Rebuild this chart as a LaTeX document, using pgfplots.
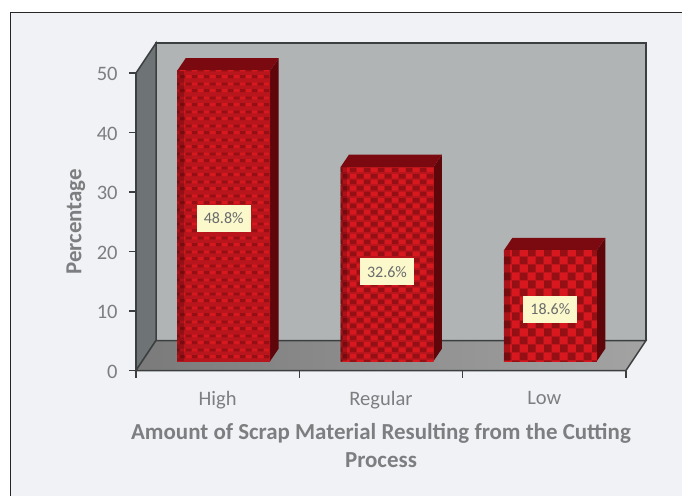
\documentclass[border=0pt]{standalone}
\usepackage{pgfplots}
\pgfplotsset{compat=1.18}
\usepackage{fontspec}
\setmainfont{Carlito}
\usetikzlibrary{patterns}
\definecolor{pgback}{HTML}{F1F2F5}
\definecolor{txt}{HTML}{7C7E80}
\definecolor{edge}{HTML}{3C3F40}
\definecolor{wallb}{HTML}{B0B4B5}
\definecolor{walll}{HTML}{6E7475}
\definecolor{cdark}{HTML}{951015}
\definecolor{cmid}{HTML}{B8151C}
\definecolor{cbright}{HTML}{D8181F}
\definecolor{sidec}{HTML}{5E060A}
\definecolor{topc}{HTML}{7A0A10}
\definecolor{lab}{HTML}{FBF8CB}
\pgfdeclarepatterninherentlycolored{dashA}{\pgfpoint{0pt}{0pt}}{\pgfpoint{9pt}{10.2pt}}{\pgfpoint{9pt}{10.2pt}}{%
  \pgfsetfillcolor{cmid}\pgfpathrectangle{\pgfpoint{0pt}{0pt}}{\pgfpoint{9pt}{10.2pt}}\pgfusepath{fill}
  \pgfsetfillcolor{cbright}\pgfpathrectangle{\pgfpoint{0pt}{6.6pt}}{\pgfpoint{4.5pt}{2.2pt}}\pgfusepath{fill}
  \pgfsetfillcolor{cdark}\pgfpathrectangle{\pgfpoint{4.5pt}{6.6pt}}{\pgfpoint{4.5pt}{2.2pt}}\pgfusepath{fill}
  \pgfsetfillcolor{cdark}\pgfpathrectangle{\pgfpoint{0pt}{1.5pt}}{\pgfpoint{4.5pt}{2.2pt}}\pgfusepath{fill}
  \pgfsetfillcolor{cbright}\pgfpathrectangle{\pgfpoint{4.5pt}{1.5pt}}{\pgfpoint{4.5pt}{2.2pt}}\pgfusepath{fill}
}
\pgfdeclarepatterninherentlycolored{checkB}{\pgfpoint{0pt}{0pt}}{\pgfpoint{10.5pt}{9pt}}{\pgfpoint{10.5pt}{9pt}}{%
  \pgfsetfillcolor{cmid}\pgfpathrectangle{\pgfpoint{0pt}{0pt}}{\pgfpoint{10.5pt}{9pt}}\pgfusepath{fill}
  \pgfsetfillcolor{cbright}\pgfpathrectangle{\pgfpoint{0pt}{4.5pt}}{\pgfpoint{5.25pt}{3.4pt}}\pgfusepath{fill}
  \pgfsetfillcolor{cdark}\pgfpathrectangle{\pgfpoint{5.25pt}{4.5pt}}{\pgfpoint{5.25pt}{3.4pt}}\pgfusepath{fill}
  \pgfsetfillcolor{cdark}\pgfpathrectangle{\pgfpoint{0pt}{0pt}}{\pgfpoint{5.25pt}{3.4pt}}\pgfusepath{fill}
  \pgfsetfillcolor{cbright}\pgfpathrectangle{\pgfpoint{5.25pt}{0pt}}{\pgfpoint{5.25pt}{3.4pt}}\pgfusepath{fill}
}
\pgfdeclarepatterninherentlycolored{checkC}{\pgfpoint{0pt}{0pt}}{\pgfpoint{12pt}{12pt}}{\pgfpoint{12pt}{12pt}}{%
  \pgfsetfillcolor{cbright}\pgfpathrectangle{\pgfpoint{0pt}{0pt}}{\pgfpoint{12pt}{12pt}}\pgfusepath{fill}
  \pgfsetfillcolor{cdark}\pgfpathrectangle{\pgfpoint{6pt}{6pt}}{\pgfpoint{6pt}{6pt}}\pgfusepath{fill}
  \pgfpathrectangle{\pgfpoint{0pt}{0pt}}{\pgfpoint{6pt}{6pt}}\pgfusepath{fill}
}
\begin{document}
\begin{tikzpicture}[x=1pt,y=1pt]
\useasboundingbox (0,0) rectangle (511.5,372);
\fill[white] (0,0) rectangle (511.5,372);
\fill[pgback] (7.9,0) rectangle (511.5,362.6);
\draw[black!85,line width=1.1pt] (7.9,0) -- (7.9,362.6) -- (511.5,362.6);
\begin{axis}[
  at={(102pt,94.1pt)}, anchor=south west,
  scale only axis, width=367.5pt, height=223.1pt,
  xmin=-0.5, xmax=2.5, ymin=0, ymax=50,
  clip=false, axis on top,
  axis x line*=bottom, axis y line*=left,
  axis line style={draw=edge,line width=1.1pt,-},
  xtick={0,1,2}, xticklabels={High,Regular,Low},
  minor xtick={-0.5,0.5,1.5,2.5},
  ytick={0,10,20,30,40,50},
  tick align=outside,
  major x tick style={draw=none},
  minor tick length=5.25pt, major tick length=5.25pt,
  tick style={draw=edge,line width=1pt},
  /pgf/number format/assume math mode=true,
  ticklabel style={font=\fontsize{15.4}{18}\selectfont,text=txt},
  xticklabel style={yshift=-6.5pt},
  yticklabel style={xshift=-5pt,yshift=-1pt},
  xlabel={Amount of Scrap Material Resulting from the Cutting\\Process},
  xlabel style={align=center,font=\fontsize{17.2}{21}\selectfont\bfseries,text=txt,yshift=-4pt},
  ylabel={Percentage},
  ylabel style={font=\fontsize{17.2}{20}\selectfont\bfseries,text=txt,yshift=1.8pt},
  barshift/.style={xshift=4.5pt,yshift=7.1pt},
]
% back wall, left wall, floor
\addplot[fill=wallb,draw=edge,line width=1.1pt] coordinates {(-0.3776,5.04)(2.6224,5.04)(2.6224,55.04)(-0.3776,55.04)} -- cycle;
\addplot[fill=walll,draw=edge,line width=1.1pt] coordinates {(-0.5,0)(-0.3776,5.04)(-0.3776,55.04)(-0.5,50)} -- cycle;
\addplot[left color=black!52,right color=black!36,draw=edge,line width=1.1pt] coordinates {(-0.5,0)(2.5,0)(2.6224,5.04)(-0.3776,5.04)} -- cycle;
% side and top faces of the bars
\addplot[barshift,fill=sidec,draw=none] coordinates {(0.2847,0)(0.3367,2.1)(0.3367,50.9)(0.2847,48.8)} -- cycle;
\addplot[barshift,fill=topc,draw=none] coordinates {(-0.2847,48.8)(0.2847,48.8)(0.3367,50.9)(-0.2327,50.9)} -- cycle;
\addplot[barshift,fill=sidec,draw=none] coordinates {(1.2847,0)(1.3367,2.1)(1.3367,34.7)(1.2847,32.6)} -- cycle;
\addplot[barshift,fill=topc,draw=none] coordinates {(0.7153,32.6)(1.2847,32.6)(1.3367,34.7)(0.7673,34.7)} -- cycle;
\addplot[barshift,fill=sidec,draw=none] coordinates {(2.2847,0)(2.3367,2.1)(2.3367,20.7)(2.2847,18.6)} -- cycle;
\addplot[barshift,fill=topc,draw=none] coordinates {(1.7153,18.6)(2.2847,18.6)(2.3367,20.7)(1.7673,20.7)} -- cycle;
% front faces: solid base, then the texture
\addplot[barshift,ybar,bar width=69.75pt,bar shift=0pt,fill=cmid,draw=none] coordinates {(0,48.8)};
\addplot[barshift,ybar,bar width=69.75pt,bar shift=0pt,fill=cmid,draw=none] coordinates {(1,32.6)};
\addplot[barshift,ybar,bar width=69.75pt,bar shift=0pt,fill=cmid,draw=none] coordinates {(2,18.6)};
\addplot[barshift,ybar,bar width=69.75pt,bar shift=0pt,pattern=dashA,draw=none] coordinates {(0,48.8)};
\addplot[barshift,ybar,bar width=69.75pt,bar shift=0pt,pattern=checkB,draw=none] coordinates {(1,32.6)};
\addplot[barshift,ybar,bar width=69.75pt,bar shift=0pt,pattern=checkC,draw=none] coordinates {(2,18.6)};
% dark left edge of each front face
\addplot[barshift,ybar,bar width=5pt,bar shift=-32.4pt,fill=black,fill opacity=0.2,draw=none] coordinates {(0,48.8)};
\addplot[barshift,ybar,bar width=5pt,bar shift=-32.4pt,fill=black,fill opacity=0.2,draw=none] coordinates {(1,32.6)};
\addplot[barshift,ybar,bar width=5pt,bar shift=-32.4pt,fill=black,fill opacity=0.2,draw=none] coordinates {(2,18.6)};
% data labels
\addplot[barshift,draw=none,mark=none,point meta=explicit symbolic,
  nodes near coords,
  every node near coord/.style={anchor=center,fill=lab,text=txt!85!black,inner sep=0pt,
    minimum width=40.5pt,minimum height=20.2pt,font=\fontsize{12}{14}\selectfont}]
  coordinates {(0,24.0)[48.8\%] (1,15.0)[32.6\%] (2,8.7)[18.6\%]};
\end{axis}
\end{tikzpicture}
\end{document}
